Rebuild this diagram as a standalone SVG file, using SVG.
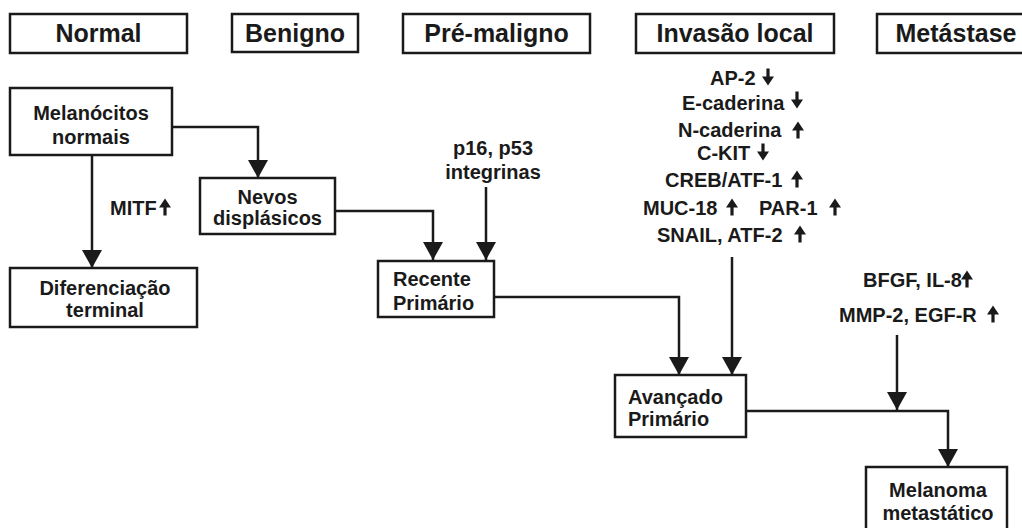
<svg xmlns="http://www.w3.org/2000/svg" xmlns:xlink="http://www.w3.org/1999/xlink" width="1022" height="528" viewBox="0 0 1022 528">
<style>
.box{fill:#fff;stroke:#1a1a1a;stroke-width:2.5}
.hd{font-family:"Liberation Sans",Arial,sans-serif;font-weight:bold;font-size:25px;fill:#1a1a1a;text-anchor:middle}
.t{font-family:"Liberation Sans",Arial,sans-serif;font-weight:bold;font-size:20px;fill:#1a1a1a}
.c{text-anchor:middle}
.ln{fill:none;stroke:#1a1a1a;stroke-width:2.5}
.ic{fill:#1a1a1a}
</style>
<defs>
<marker id="ah" markerUnits="userSpaceOnUse" markerWidth="18" markerHeight="20" refX="18" refY="10" orient="auto">
<path d="M0,0 L18,10 L0,20 z" fill="#1a1a1a"/>
</marker>
<path id="up" d="M0,-8.5 L6,0.5 L1.6,0.5 L1.6,8.5 L-1.6,8.5 L-1.6,0.5 L-6,0.5 z"/>
<path id="dn" d="M0,8.5 L6,-0.5 L1.6,-0.5 L1.6,-8.5 L-1.6,-8.5 L-1.6,-0.5 L-6,-0.5 z"/>
</defs>
<rect width="1022" height="528" fill="#fff"/>

<g id="header-normal"><rect class="box" x="10" y="14" width="177" height="39"/><text class="hd" x="98.5" y="42">Normal</text></g>
<g id="header-benigno"><rect class="box" x="232" y="14" width="126" height="38"/><text class="hd" x="295" y="42">Benigno</text></g>
<g id="header-premaligno"><rect class="box" x="403" y="14" width="187" height="39"/><text class="hd" x="496.5" y="42">Pré-maligno</text></g>
<g id="header-invasao"><rect class="box" x="636" y="14" width="198" height="39"/><text class="hd" x="735" y="42">Invasão local</text></g>
<g id="header-metastase"><rect class="box" x="877" y="14" width="160" height="39"/><text class="hd" x="956" y="42">Metástase</text></g>

<g id="connectors">
<path class="ln" d="M92,155 V268" marker-end="url(#ah)"/>
<path class="ln" d="M172,127 H258 V178" marker-end="url(#ah)"/>
<path class="ln" d="M336,211 H433 V260" marker-end="url(#ah)"/>
<path class="ln" d="M486,187 V260" marker-end="url(#ah)"/>
<path class="ln" d="M494,297 H679 V375" marker-end="url(#ah)"/>
<path class="ln" d="M732,257 V375" marker-end="url(#ah)"/>
<path class="ln" d="M746,411 H948 V467" marker-end="url(#ah)"/>
<path class="ln" d="M897,335 V410" marker-end="url(#ah)"/>
</g>

<g id="melanocitos"><rect class="box" x="10" y="88" width="162" height="67"/><text class="t c" x="91" y="120">Melanócitos</text><text class="t c" x="91" y="144">normais</text></g>
<g id="nevos"><rect class="box" x="200" y="178" width="135" height="56"/><text class="t c" x="267.5" y="204">Nevos</text><text class="t c" x="267.5" y="225">displásicos</text></g>
<g id="diferenciacao"><rect class="box" x="10" y="268" width="187" height="59"/><text class="t c" x="105" y="295">Diferenciação</text><text class="t c" x="105" y="317">terminal</text></g>
<g id="recente"><rect class="box" x="378" y="261" width="116" height="56"/><text class="t" x="393" y="286">Recente</text><text class="t" x="393" y="310">Primário</text></g>
<g id="avancado"><rect class="box" x="615" y="375" width="131" height="62"/><text class="t" x="628" y="404">Avançado</text><text class="t" x="628" y="426">Primário</text></g>
<g id="melanoma"><rect class="box" x="866" y="467" width="141" height="70"/><text class="t c" x="938" y="497">Melanoma</text><text class="t c" x="938" y="520">metastático</text></g>

<g id="label-mitf"><text class="t" x="110" y="215">MITF</text><use href="#up" class="ic" x="165" y="207"/></g>
<g id="label-p16"><text class="t c" x="493" y="155">p16, p53</text><text class="t c" x="493" y="179">integrinas</text></g>

<g id="label-invasao">
<text class="t" x="710" y="85">AP-2</text><use href="#dn" class="ic" x="768" y="77"/>
<text class="t" x="682" y="110">E-caderina</text><use href="#dn" class="ic" x="797" y="100"/>
<text class="t" x="678" y="137">N-caderina</text><use href="#up" class="ic" x="798" y="130"/>
<text class="t" x="697" y="160">C-KIT</text><use href="#dn" class="ic" x="763" y="152"/>
<text class="t" x="665" y="187">CREB/ATF-1</text><use href="#up" class="ic" x="797" y="179"/>
<text class="t" x="643" y="215">MUC-18</text><use href="#up" class="ic" x="732" y="207"/>
<text class="t" x="759" y="215">PAR-1</text><use href="#up" class="ic" x="835" y="207"/>
<text class="t" x="657" y="242">SNAIL, ATF-2</text><use href="#up" class="ic" x="800" y="234"/>
</g>

<g id="label-metastase">
<text class="t" x="863" y="287">BFGF, IL-8</text><use href="#up" class="ic" x="967" y="279"/>
<text class="t" x="839" y="322">MMP-2, EGF-R</text><use href="#up" class="ic" x="993" y="314"/>
</g>
</svg>
